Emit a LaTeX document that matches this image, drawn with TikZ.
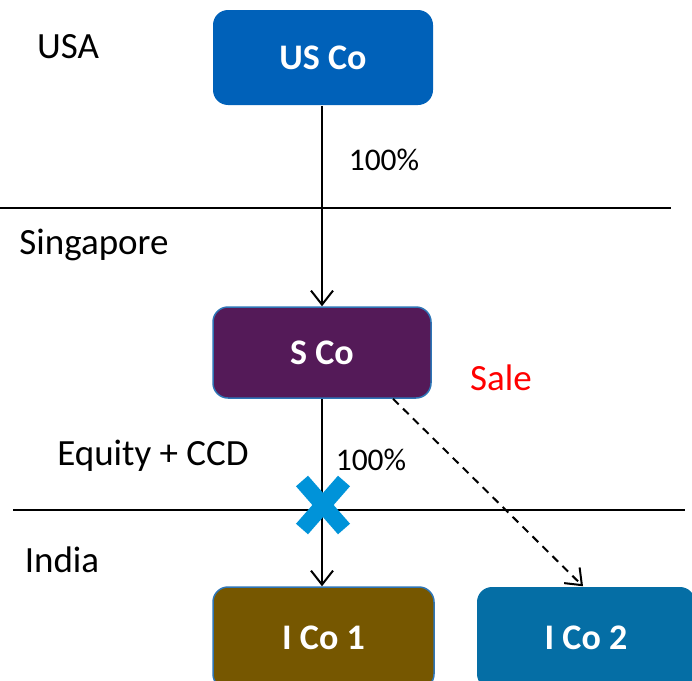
\documentclass[tikz,border=0pt]{standalone}
\usepackage{fontspec}
\setmainfont{Carlito}
\usetikzlibrary{arrows.meta}
\definecolor{usblue}{HTML}{0061B9}
\definecolor{spurple}{HTML}{541A58}
\definecolor{ibrown}{HTML}{765700}
\definecolor{iblue}{HTML}{056EA5}
\definecolor{edgeblue}{HTML}{2E75B6}
\definecolor{xblue}{HTML}{0093D9}
\definecolor{salered}{HTML}{FF0000}
\begin{document}
\begin{tikzpicture}[x=1pt,y=-1pt,
  box/.style={rounded corners=15pt, text=white, font=\fontsize{36}{40}\selectfont\bfseries, inner sep=0pt, line width=1.5pt},
  lbl/.style={font=\fontsize{37}{42}\selectfont, inner sep=0pt},
  pct/.style={font=\fontsize{31.5}{36}\selectfont, inner sep=0pt},
  arr/.style={line width=2pt, -{Straight Barb[length=14pt,width=22pt,line width=2pt]}},
  sep/.style={line width=1.5pt}
]
\useasboundingbox (0,0) rectangle (692,680);
\node[box, fill=usblue, minimum width=220pt, minimum height=95pt] (usco) at (323,57.5) {US Co};
\node[box, fill=spurple, draw=edgeblue, minimum width=218pt, minimum height=91pt] (sco) at (322,352.5) {S Co};
\node[box, fill=ibrown, draw=edgeblue, minimum width=221pt, minimum height=102pt] (ico1) at (323.5,638) {I Co 1};
\node[box, fill=iblue, minimum width=218pt, minimum height=102pt] (ico2) at (586,638) {I Co 2};

\coordinate (l1a) at (0,208); \coordinate (l1b) at (671,208);
\coordinate (l2a) at (13,510); \coordinate (l2b) at (685,510);
\draw[sep] (l1a) -- (l1b);
\draw[sep] (l2a) -- (l2b);

\draw[arr] (usco.south -| 322,0) -- (sco.north -| 322,0);
\draw[arr] (sco.south -| 322,0) -- (ico1.north -| 322,0);
\draw[arr, dash pattern=on 8pt off 6pt] ([xshift=71pt]sco.south) -- ([xshift=-3pt]ico2.north);

\coordinate (xc) at (323,505);
\draw[xblue, line width=16pt] ([shift={(-21,-24)}]xc) -- ([shift={(21,24)}]xc);
\draw[xblue, line width=16pt] ([shift={(21,-24)}]xc) -- ([shift={(-21,24)}]xc);

\node[lbl] (usa) at (68,47) {USA};
\node[pct] (p1) at (384,160) {100\%};
\node[lbl] (sg) at (94,245) {Singapore};
\node[lbl, text=salered] (sale) at (501,378) {Sale};
\node[lbl] (eq) at (153,456) {Equity + CCD};
\node[pct] (p2) at (371,460) {100\%};
\node[lbl] (ind) at (62,560) {India};
\end{tikzpicture}
\end{document}
